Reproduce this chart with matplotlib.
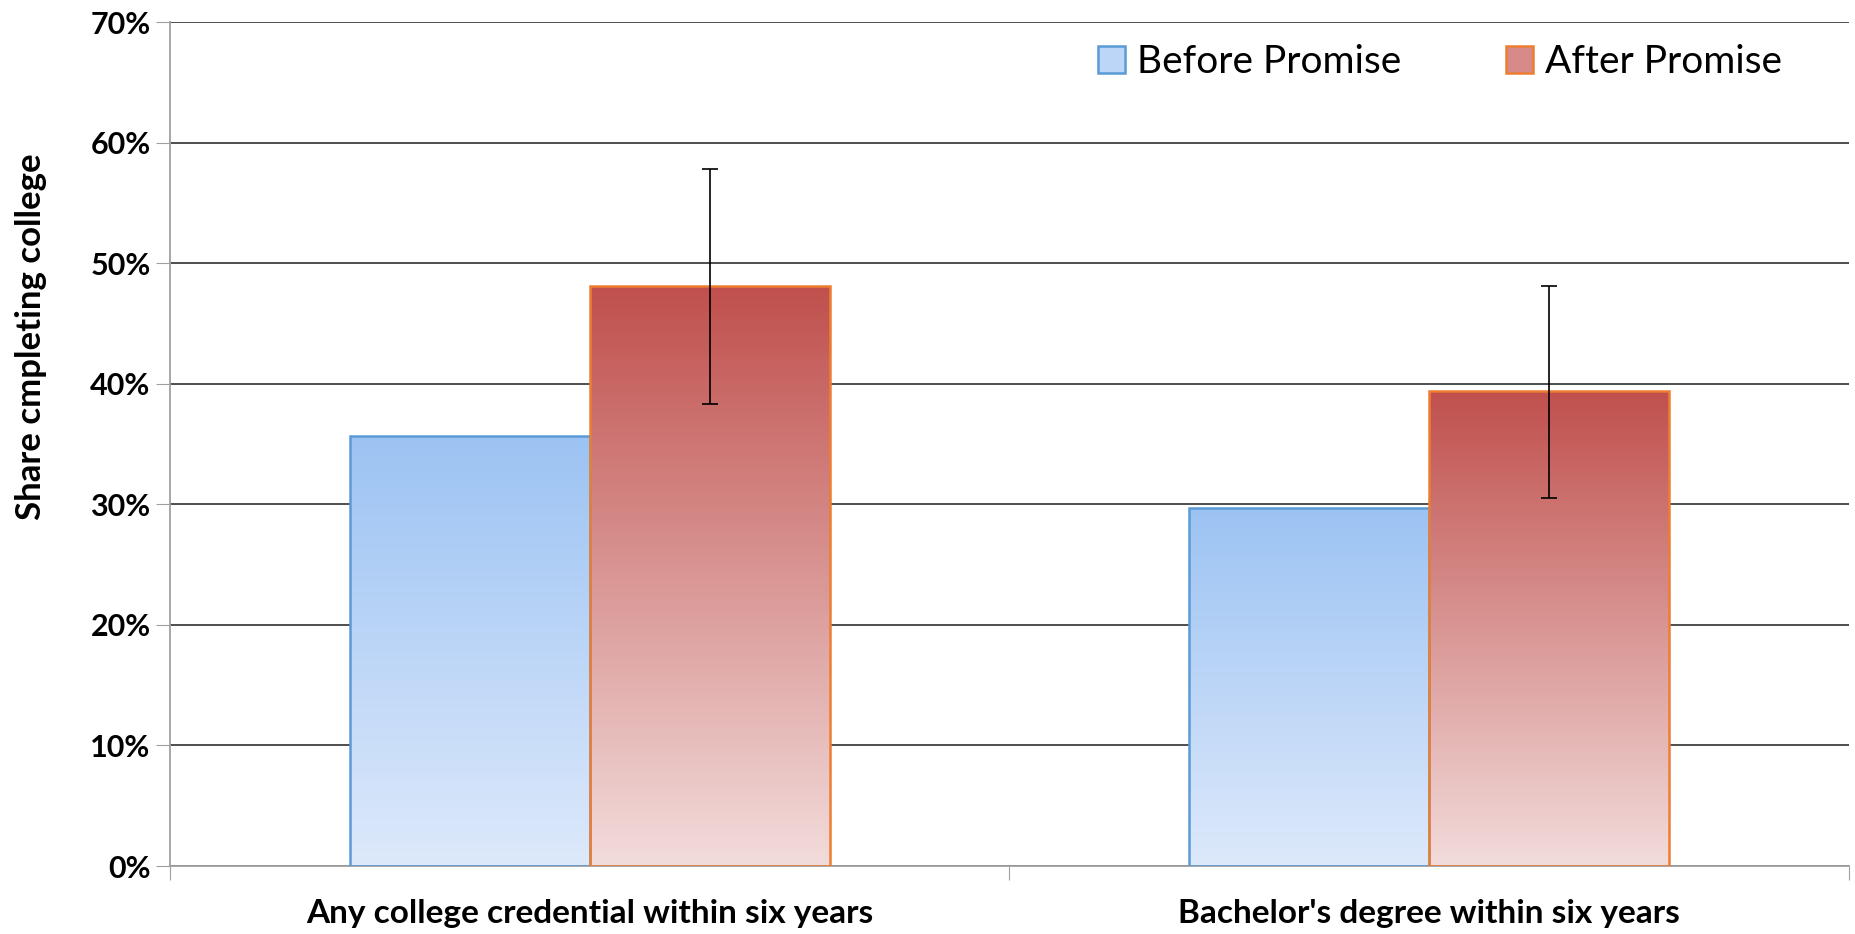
import numpy as np
import matplotlib.pyplot as plt
import matplotlib.patches as mpatches
from matplotlib.colors import LinearSegmentedColormap

# Data (percent)
categories = ["Any college credential within six years",
              "Bachelor's degree within six years"]
before = [35.7, 29.7]
after = [48.1, 39.4]
after_err_low = [38.3, 30.5]
after_err_high = [57.8, 48.1]
series_names = ["Before Promise", "After Promise"]

plt.rcParams['font.family'] = ['Lato', 'DejaVu Sans']

fig = plt.figure(figsize=(18.56, 9.34), dpi=100)
ax = fig.add_axes([0.0916, 0.0728, 0.9046, 0.9036])

blue_cmap = LinearSegmentedColormap.from_list("blue", ["#dde9fb", "#9cc3f3"])
red_cmap = LinearSegmentedColormap.from_list("red", ["#f2dcdb", "#c0504d"])

x = np.arange(len(categories))
width = 0.286


def gradient_bars(xpos, heights, cmap, edge):
    bars = ax.bar(xpos, heights, width, facecolor="none", edgecolor=edge,
                  linewidth=1.8, zorder=3)
    grad = np.linspace(0, 1, 256).reshape(-1, 1)
    for b in bars:
        x0, y0 = b.get_x(), b.get_y()
        im = ax.imshow(grad, extent=[x0, x0 + b.get_width(), y0,
                                     y0 + b.get_height()],
                       origin="lower", aspect="auto", cmap=cmap, zorder=2)
        im.set_clip_path(b)
    return bars


gradient_bars(x - width / 2, before, blue_cmap, "#5b9bd5")
gradient_bars(x + width / 2, after, red_cmap, "#ed7d31")

# error bars on the after bars
after_arr = np.array(after)
yerr = [after_arr - np.array(after_err_low), np.array(after_err_high) - after_arr]
ax.errorbar(x + width / 2, after, yerr=yerr, fmt="none", ecolor="black",
            elinewidth=1.2, capsize=6, capthick=1.2, zorder=4)

ax.set_xlim(-0.5, 1.5)
ax.set_ylim(0, 70)
ax.set_yticks(np.arange(0, 71, 10))
ax.set_yticklabels([f"{v}%" for v in range(0, 71, 10)], fontsize=22,
                   fontweight="bold")
ax.yaxis.grid(True, color="#404040", linewidth=1.3, zorder=0)
ax.set_axisbelow(True)

# category ticks at the boundaries, labels centred
ax.set_xticks([-0.5, 0.5, 1.5])
ax.set_xticklabels([])
ax.set_xticks(x, minor=True)
ax.set_xticklabels(categories, minor=True, fontsize=24, fontweight="bold")
ax.tick_params(axis="x", which="minor", length=0, pad=24)
ax.tick_params(axis="x", which="major", length=10, color="#a0a0a0")
ax.tick_params(axis="y", length=10, color="#a0a0a0", pad=4)

for s in ["top", "right"]:
    ax.spines[s].set_visible(False)
ax.spines["left"].set_color("#a0a0a0")
ax.spines["bottom"].set_color("#a0a0a0")
ax.spines["left"].set_linewidth(1.3)
ax.spines["bottom"].set_linewidth(1.3)

ax.set_ylabel("Share cmpleting college", fontsize=25, fontweight="bold")
ax.yaxis.set_label_coords(-0.073, 0.627)

handles = [mpatches.Patch(facecolor="#bcd6f7", edgecolor="#5b9bd5",
                          linewidth=1.8, label=series_names[0]),
           mpatches.Patch(facecolor="#d88a88", edgecolor="#ed7d31",
                          linewidth=1.8, label=series_names[1])]
ax.legend(handles=handles, loc="upper right", ncol=2, frameon=False,
          fontsize=28, bbox_to_anchor=(0.981, 1.015), handlelength=0.7,
          handleheight=0.7, handletextpad=0.3, columnspacing=2.7)

plt.savefig("out.png", dpi=100)
